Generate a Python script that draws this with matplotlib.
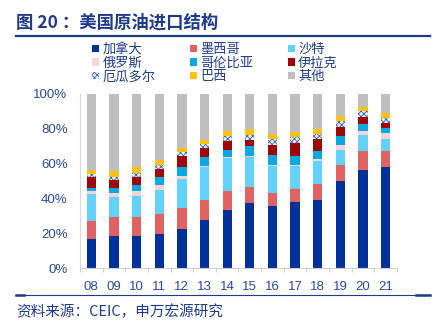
import numpy as np
import matplotlib
matplotlib.use("Agg")
import matplotlib.pyplot as plt
from matplotlib.patches import Patch
from matplotlib.lines import Line2D

plt.rcParams['font.family'] = ['Noto Sans CJK SC', 'DejaVu Sans']
plt.rcParams['hatch.linewidth'] = 0.6

years = ['08', '09', '10', '11', '12', '13', '14', '15', '16', '17', '18', '19', '20', '21']

# import share by origin, % of total
canada   = [17.0, 18.4, 18.4, 19.7, 22.8, 27.7, 33.3, 37.3, 35.6, 37.9, 39.2, 49.9, 56.4, 57.9]
mexico   = [10.5, 11.2, 11.2, 11.8, 11.6, 11.7, 11.3, 9.5, 7.4, 7.4, 9.0, 9.2, 11.1, 9.2]
saudi    = [15.3, 11.1, 12.1, 13.6, 17.0, 18.5, 18.7, 16.9, 15.9, 13.2, 13.6, 9.0, 9.2, 6.9]
russia   = [1.4, 2.3, 2.5, 2.9, 1.8, 0.8, 0.4, 0.9, 0.6, 1.0, 1.1, 2.5, 1.9, 3.4]
colombia = [1.8, 3.0, 3.8, 4.2, 5.1, 5.3, 4.2, 5.4, 5.7, 4.7, 4.2, 5.1, 4.4, 3.1]
iraq     = [6.2, 4.9, 4.4, 5.0, 5.9, 5.0, 5.1, 3.4, 5.7, 7.9, 7.1, 5.4, 3.8, 2.7]
ecuador  = [2.1, 1.7, 2.3, 2.3, 2.3, 2.5, 3.1, 3.3, 3.5, 3.0, 2.9, 3.2, 3.6, 3.0]
brazil   = [2.3, 3.0, 3.2, 2.8, 2.7, 2.3, 2.5, 3.2, 2.7, 3.1, 2.6, 3.1, 2.0, 2.7]

series = [
    ('加拿大', canada, '#00309A'),
    ('墨西哥', mexico, '#E06262'),
    ('沙特', saudi, '#62D2FA'),
    ('俄罗斯', russia, '#F7D3D5'),
    ('哥伦比亚', colombia, '#0AA8E2'),
    ('伊拉克', iraq, '#9E0606'),
    ('厄瓜多尔', ecuador, None),
    ('巴西', brazil, '#FFC20E'),
]
others = [100 - sum(v[i] for _, v, _ in series) for i in range(len(years))]
series.append(('其他', others, '#BFBFBF'))

navy = '#1F3A8C'
tick_col = '#2A4A9A'

fig = plt.figure(figsize=(4.36, 3.26), dpi=100)
ax = fig.add_axes([0.1835, 0.1764, 0.727, 0.5353])

x = np.arange(len(years))
bottom = np.zeros(len(years))
handles = {}
for name, vals, col in series:
    vals = np.array(vals)
    if col is None:
        ax.bar(x, vals, 0.41, bottom=bottom, facecolor='#E8EEF8',
               edgecolor='#3A64B4', hatch='xxxxxx', linewidth=0)
        handles[name] = Patch(facecolor='#E8EEF8', edgecolor='#3A64B4',
                              hatch='xxxxxx', linewidth=0)
    else:
        ax.bar(x, vals, 0.41, bottom=bottom, color=col, linewidth=0)
        handles[name] = Patch(facecolor=col, linewidth=0)
    bottom += vals

ax.set_xlim(-0.5, 13.5)
ax.set_ylim(0, 100)
ax.set_yticks([0, 20, 40, 60, 80, 100])
ax.set_yticklabels([f'{v}%' for v in [0, 20, 40, 60, 80, 100]],
                   family=['Liberation Sans', 'DejaVu Sans'], fontsize=9.5, color=tick_col)
ax.set_xticks(x)
ax.set_xticklabels(years, family=['Liberation Sans', 'DejaVu Sans'], fontsize=9.5, color=tick_col)
ax.set_xticks(np.arange(-0.5, 14, 1), minor=True)
ax.tick_params(axis='y', length=0, pad=9)
ax.tick_params(axis='x', which='major', length=0, pad=9)
ax.tick_params(axis='x', which='minor', length=3, color='#D0D0D0', width=0.8)
for s in ['top', 'right']:
    ax.spines[s].set_visible(False)
ax.spines['left'].set_color('#D9D9D9')
ax.spines['bottom'].set_color('#D0D0D0')
ax.spines['left'].set_linewidth(0.8)
ax.spines['bottom'].set_linewidth(0.8)

order = ['加拿大', '俄罗斯', '厄瓜多尔', '墨西哥', '哥伦比亚', '巴西', '沙特', '伊拉克', '其他']
leg = fig.legend([handles[n] for n in order], order, ncol=3, loc='upper left',
                 bbox_to_anchor=(0.212, 0.868), frameon=False, fontsize=9.5,
                 handlelength=0.5, handleheight=0.5, handletextpad=0.25,
                 columnspacing=2.65, labelspacing=0.05, borderpad=0, borderaxespad=0)
for t in leg.get_texts():
    t.set_color(navy)

# title and rules
fig.text(0.037, 0.932, '图 20 ：美国原油进口结构', fontsize=12.5, fontweight='bold',
         color=navy, va='center', ha='left')
fig.add_artist(Line2D([0.037, 0.986], [0.889, 0.889], color='#1F3A8C', lw=1.6))
fig.add_artist(Line2D([0.037, 0.986], [0.095, 0.095], color='#1F3A8C', lw=0.8))
fig.add_artist(Line2D([0.037, 0.054], [0.095, 0.095], color='#1F3A8C', lw=1.8))
fig.add_artist(Line2D([0.955, 0.986], [0.095, 0.095], color='#1F3A8C', lw=1.8))
fig.text(0.037, 0.045, '资料来源：CEIC，申万宏源研究', fontsize=10.5, color=navy,
         va='center', ha='left')

fig.savefig('out.png', dpi=100)
